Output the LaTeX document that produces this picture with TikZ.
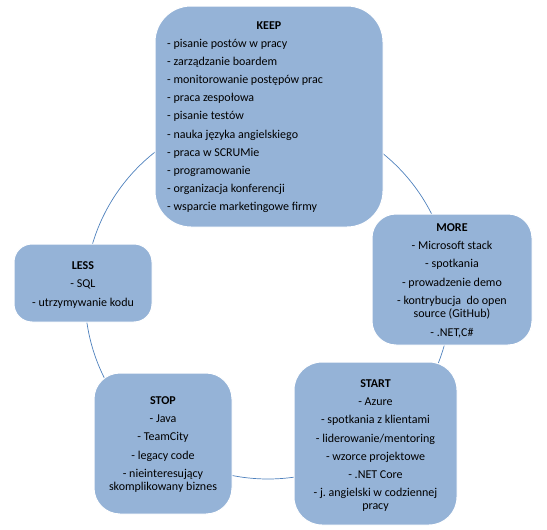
\documentclass[tikz,border=0pt]{standalone}
\usepackage{fontspec}
\setmainfont{Carlito}
\frenchspacing
\definecolor{boxfill}{RGB}{149,179,215}
\definecolor{ringcol}{RGB}{79,129,189}
\begin{document}
\begin{tikzpicture}[x=1pt,y=-1pt,
  box/.style={draw=white, line width=1pt, fill=boxfill, inner sep=0pt, rectangle},
  ring/.style={draw=ringcol, line width=0.7pt},
  txt/.style={anchor=base, inner sep=0pt, font=\fontsize{12}{14}\selectfont},
  ttl/.style={txt, font=\fontsize{12}{14}\selectfont\bfseries},
  ltxt/.style={txt, anchor=base west}]
\useasboundingbox (0,0) rectangle (547,530);
\coordinate (ringc) at (268,296);
\draw[ring] (ringc) circle[radius=183];
% boxes
\node[box, rounded corners=36pt, minimum width=228pt, minimum height=221pt] (keep) at (269,116.5) {};
\node[box, rounded corners=24pt, minimum width=160pt, minimum height=131pt] (more) at (452,279.5) {};
\node[box, rounded corners=18pt, minimum width=138pt, minimum height=78pt] (less) at (83,283) {};
\node[box, rounded corners=26pt, minimum width=138pt, minimum height=141pt] (stop) at (163,443.5) {};
\node[box, rounded corners=28pt, minimum width=163pt, minimum height=163pt] (start) at (375.5,443.5) {};
% KEEP
\node[ttl] (keept) at (269,29) {KEEP};
\node[ltxt] (keep1) at (167,47) {- pisanie postów w pracy};
\node[ltxt] (keep2) at (167,65.2) {- zarządzanie boardem};
\node[ltxt] (keep3) at (167,83.4) {- monitorowanie postępów\ prac};
\node[ltxt] (keep4) at (167,101.6) {- praca zespołowa};
\node[ltxt] (keep5) at (167,119.8) {- pisanie testów};
\node[ltxt] (keep6) at (167,138) {- nauka języka angielskiego};
\node[ltxt] (keep7) at (167,156.2) {- praca w SCRUMie};
\node[ltxt] (keep8) at (167,174.4) {- programowanie};
\node[ltxt] (keep9) at (167,192.6) {- organizacja konferencji};
\node[ltxt] (keep10) at (167,210.8) {- wsparcie marketingowe firmy};
% MORE
\node[ttl] (moret) at (452,231) {MORE};
\node[txt] (more1) at (452,249) {- Microsoft stack};
\node[txt] (more2) at (452,267) {- spotkania};
\node[txt] (more3) at (452,286) {- prowadzenie demo};
\node[txt] (more4) at (452,304) {- kontrybucja\ \ do open};
\node[txt] (more5) at (452,317.5) {source (GitHub)};
\node[txt] (more6) at (452,336) {- .NET,C\#};
% LESS
\node[ttl] (lesst) at (83,269) {LESS};
\node[txt] (less1) at (83,287) {- SQL};
\node[txt] (less2) at (83,306) {- utrzymywanie kodu};
% STOP
\node[ttl] (stopt) at (163,404) {STOP};
\node[txt] (stop1) at (163,422) {- Java};
\node[txt] (stop2) at (163,440) {- TeamCity};
\node[txt] (stop3) at (163,459) {- legacy code};
\node[txt] (stop4) at (163,477) {- nieinteresujący};
\node[txt] (stop5) at (163,490.5) {skomplikowany biznes};
% START
\node[ttl] (startt) at (375.5,387) {START};
\node[txt] (start1) at (375.5,405) {- Azure};
\node[txt] (start2) at (375.5,423) {- spotkania z klientami};
\node[txt] (start3) at (375.5,442) {- liderowanie/mentoring};
\node[txt] (start4) at (375.5,460) {- wzorce projektowe};
\node[txt] (start5) at (375.5,478) {- .NET Core};
\node[txt] (start6) at (375.5,496) {- j. angielski w codziennej};
\node[txt] (start7) at (375.5,509.5) {pracy};
\end{tikzpicture}
\end{document}
